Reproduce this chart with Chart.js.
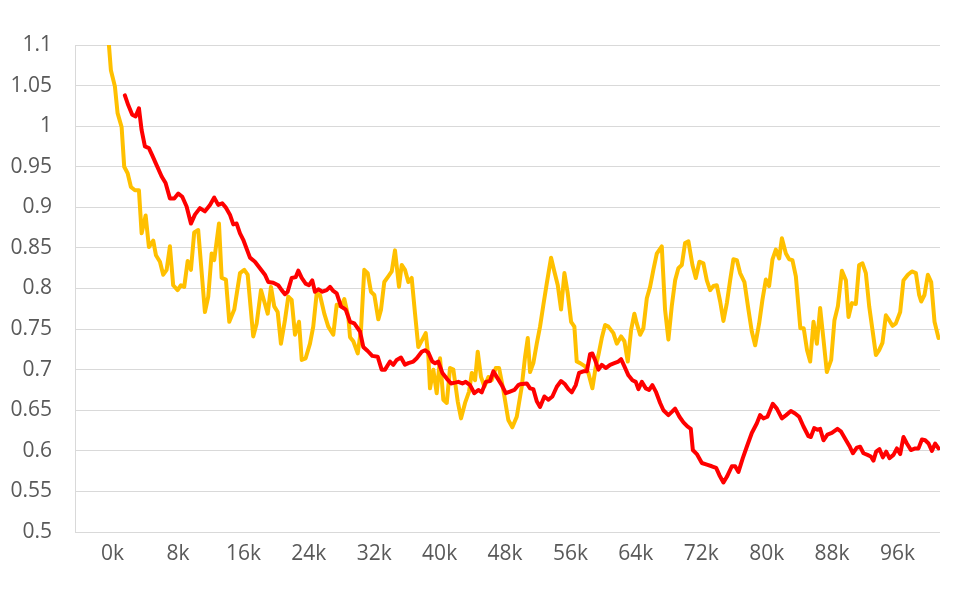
<!DOCTYPE html>
<html>
<head>
<meta charset="utf-8">
<script src="https://cdn.jsdelivr.net/npm/chart.js@4.4.1/dist/chart.umd.min.js"></script>
<style>
  html, body { margin: 0; padding: 0; background: #ffffff; }
  canvas { display: block; }
</style>
</head>
<body>
<canvas id="chart" width="956" height="591"></canvas>
<script>
// values (x in thousands)
var yellowX = [-0.45, -0.21, 0.28, 0.61, 1.10, 1.42, 1.84, 2.24, 2.73, 3.22, 3.55, 4.04, 4.44, 4.97, 5.30, 5.79, 6.19, 6.61, 7.01, 7.41,
  7.95, 8.36, 8.76, 9.18, 9.58, 9.98, 10.47, 11.29, 11.70, 12.11, 12.43, 13.01, 13.34, 13.86, 14.27, 14.88, 15.58, 16.10, 16.52, 17.20,
  17.62, 18.15, 18.55, 18.97, 19.37, 19.77, 20.19, 20.59, 21.08, 21.49, 21.90, 22.31, 22.80, 23.13, 23.61, 24.14, 24.54, 24.96, 25.36, 25.89,
  26.38, 26.99, 27.41, 27.93, 28.34, 28.83, 29.04, 29.44, 29.98, 30.38, 30.78, 31.20, 31.60, 32.01, 32.50, 32.83, 33.23, 33.72, 34.14, 34.54,
  35.03, 35.36, 35.76, 36.17, 36.58, 36.99, 37.39, 37.88, 38.30, 38.62, 38.82, 39.23, 39.64, 40.05, 40.45, 40.87, 41.27, 41.68, 42.21, 42.62,
  43.11, 43.60, 43.93, 44.33, 44.66, 45.06, 45.47, 45.96, 46.37, 46.86, 47.27, 47.79, 48.40, 48.89, 49.43, 50.04, 50.45, 50.78, 51.06, 51.46,
  51.88, 52.28, 52.69, 53.10, 53.63, 54.03, 54.45, 54.85, 55.26, 55.67, 56.08, 56.48, 56.77, 57.18, 57.79, 58.19, 58.68, 59.10, 59.42, 59.83,
  60.24, 60.64, 61.25, 61.67, 62.19, 62.60, 63.01, 63.42, 63.82, 64.11, 64.52, 64.92, 65.34, 65.74, 66.14, 66.56, 67.17, 67.57, 67.98, 68.39,
  68.80, 69.20, 69.62, 70.02, 70.43, 70.92, 71.33, 71.77, 72.26, 72.68, 73.08, 73.49, 73.90, 74.31, 74.71, 75.13, 75.53, 75.93, 76.35, 76.75,
  77.28, 77.77, 78.18, 78.59, 79.08, 79.48, 79.90, 80.30, 80.71, 81.12, 81.53, 81.86, 82.35, 82.75, 83.15, 83.57, 84.12, 84.53, 84.94, 85.32,
  85.73, 86.14, 86.54, 86.95, 87.36, 87.89, 88.29, 88.71, 89.20, 89.69, 90.01, 90.42, 90.91, 91.31, 91.72, 92.13, 92.54, 92.94, 93.36, 93.76,
  94.16, 94.58, 94.98, 95.39, 95.80, 96.33, 96.73, 97.27, 97.76, 98.25, 98.65, 98.90, 99.30, 99.72, 100.12, 100.53, 101.02];
var yellowY = [1.100, 1.069, 1.049, 1.016, 0.999, 0.950, 0.942, 0.925, 0.921, 0.921, 0.868, 0.890, 0.851, 0.859, 0.841, 0.833, 0.817, 0.823, 0.852, 0.804,
  0.798, 0.804, 0.802, 0.834, 0.823, 0.869, 0.872, 0.771, 0.790, 0.843, 0.835, 0.880, 0.813, 0.811, 0.759, 0.774, 0.819, 0.823, 0.817, 0.741,
  0.757, 0.798, 0.784, 0.769, 0.802, 0.778, 0.771, 0.732, 0.761, 0.790, 0.786, 0.743, 0.759, 0.712, 0.714, 0.732, 0.753, 0.794, 0.792, 0.769,
  0.753, 0.743, 0.780, 0.778, 0.787, 0.765, 0.740, 0.735, 0.720, 0.749, 0.823, 0.819, 0.796, 0.792, 0.762, 0.774, 0.808, 0.815, 0.821, 0.847,
  0.802, 0.829, 0.823, 0.808, 0.813, 0.769, 0.728, 0.737, 0.745, 0.716, 0.677, 0.700, 0.671, 0.714, 0.663, 0.659, 0.702, 0.700, 0.661, 0.640,
  0.659, 0.673, 0.696, 0.687, 0.722, 0.691, 0.679, 0.691, 0.687, 0.702, 0.702, 0.675, 0.638, 0.629, 0.642, 0.679, 0.716, 0.739, 0.697, 0.708,
  0.732, 0.753, 0.780, 0.806, 0.838, 0.821, 0.804, 0.774, 0.819, 0.794, 0.759, 0.753, 0.710, 0.708, 0.704, 0.696, 0.677, 0.704, 0.718, 0.739,
  0.755, 0.753, 0.745, 0.732, 0.741, 0.735, 0.710, 0.749, 0.769, 0.757, 0.743, 0.751, 0.788, 0.802, 0.823, 0.843, 0.852, 0.774, 0.737, 0.778,
  0.810, 0.825, 0.829, 0.856, 0.858, 0.829, 0.813, 0.833, 0.831, 0.810, 0.798, 0.803, 0.804, 0.784, 0.760, 0.782, 0.810, 0.836, 0.835, 0.819,
  0.808, 0.774, 0.747, 0.730, 0.757, 0.786, 0.811, 0.803, 0.836, 0.848, 0.837, 0.862, 0.843, 0.836, 0.835, 0.815, 0.751, 0.751, 0.724, 0.710,
  0.759, 0.732, 0.776, 0.737, 0.697, 0.712, 0.761, 0.778, 0.822, 0.810, 0.765, 0.782, 0.781, 0.829, 0.831, 0.819, 0.778, 0.749, 0.718, 0.724,
  0.733, 0.767, 0.761, 0.754, 0.757, 0.771, 0.810, 0.817, 0.821, 0.819, 0.792, 0.784, 0.792, 0.817, 0.808, 0.759, 0.739];

var redX = [1.50, 1.91, 2.40, 2.81, 3.22, 3.55, 3.95, 4.44, 4.85, 5.38, 6.00, 6.48, 7.01, 7.54, 8.03, 8.52, 9.05, 9.58, 10.07, 10.68,
  11.29, 11.91, 12.43, 12.92, 13.41, 13.83, 14.35, 14.76, 15.17, 15.58, 15.98, 16.80, 17.41, 18.02, 18.63, 19.04, 19.65, 20.26, 20.68, 21.08,
  21.41, 21.90, 22.39, 22.71, 23.13, 23.61, 24.02, 24.42, 24.75, 25.16, 25.65, 26.18, 26.59, 26.99, 27.41, 27.93, 28.51, 29.04, 29.56, 30.26,
  30.66, 31.20, 31.76, 32.42, 32.91, 33.32, 33.93, 34.33, 34.75, 35.27, 35.76, 36.17, 36.78, 37.20, 37.81, 38.21, 38.62, 39.10, 39.44, 39.84,
  40.33, 40.87, 41.39, 41.88, 42.29, 42.78, 43.19, 43.72, 44.24, 44.73, 45.15, 45.64, 46.16, 46.57, 47.11, 47.60, 48.09, 48.61, 49.14, 49.63,
  49.83, 50.66, 51.06, 51.46, 51.88, 52.28, 52.81, 53.30, 53.79, 54.33, 54.85, 55.34, 55.75, 56.16, 56.65, 57.05, 57.58, 58.00, 58.40, 58.68,
  59.01, 59.42, 59.83, 60.32, 60.85, 61.37, 61.86, 62.19, 62.60, 63.09, 63.58, 63.99, 64.31, 64.73, 65.22, 65.62, 66.02, 66.44, 66.97, 67.37,
  67.98, 68.40, 68.80, 69.33, 69.82, 70.30, 70.72, 70.97, 71.46, 72.07, 72.68, 73.29, 73.82, 74.22, 74.71, 75.13, 75.74, 76.14, 76.55, 77.08,
  77.57, 78.18, 78.80, 79.20, 79.60, 80.09, 80.75, 81.24, 81.86, 82.38, 82.96, 83.48, 83.97, 84.50, 85.11, 85.40, 85.81, 86.21, 86.54, 86.95,
  87.43, 87.97, 88.66, 89.07, 89.60, 90.12, 90.54, 91.03, 91.43, 91.84, 92.33, 92.74, 93.06, 93.39, 93.80, 94.21, 94.62, 95.02, 95.51, 95.93,
  96.33, 96.73, 97.15, 97.64, 98.17, 98.57, 98.99, 99.39, 99.80, 100.21, 100.61, 101.02];
var redY = [1.038, 1.026, 1.014, 1.012, 1.022, 0.995, 0.975, 0.973, 0.964, 0.952, 0.938, 0.930, 0.911, 0.911, 0.917, 0.913, 0.901, 0.880, 0.891, 0.899,
  0.895, 0.903, 0.912, 0.903, 0.905, 0.900, 0.891, 0.879, 0.880, 0.868, 0.860, 0.838, 0.833, 0.825, 0.817, 0.808, 0.807, 0.804, 0.798, 0.793,
  0.796, 0.813, 0.814, 0.822, 0.813, 0.806, 0.804, 0.810, 0.796, 0.799, 0.796, 0.798, 0.802, 0.797, 0.794, 0.778, 0.774, 0.759, 0.757, 0.747,
  0.728, 0.723, 0.717, 0.716, 0.700, 0.700, 0.710, 0.706, 0.712, 0.715, 0.706, 0.708, 0.710, 0.714, 0.722, 0.724, 0.721, 0.710, 0.708, 0.710,
  0.696, 0.689, 0.683, 0.684, 0.685, 0.683, 0.685, 0.681, 0.671, 0.675, 0.672, 0.685, 0.686, 0.698, 0.689, 0.681, 0.671, 0.673, 0.675, 0.681,
  0.682, 0.683, 0.677, 0.676, 0.661, 0.654, 0.667, 0.663, 0.667, 0.679, 0.686, 0.682, 0.676, 0.672, 0.681, 0.696, 0.698, 0.698, 0.719, 0.720,
  0.712, 0.700, 0.706, 0.702, 0.706, 0.708, 0.710, 0.713, 0.704, 0.693, 0.687, 0.685, 0.676, 0.685, 0.677, 0.675, 0.681, 0.673, 0.659, 0.650,
  0.644, 0.648, 0.652, 0.642, 0.635, 0.630, 0.627, 0.601, 0.596, 0.585, 0.583, 0.581, 0.579, 0.570, 0.561, 0.568, 0.581, 0.581, 0.574, 0.591,
  0.605, 0.622, 0.634, 0.644, 0.640, 0.642, 0.658, 0.652, 0.640, 0.644, 0.649, 0.646, 0.642, 0.630, 0.618, 0.617, 0.628, 0.626, 0.627, 0.613,
  0.620, 0.622, 0.627, 0.624, 0.615, 0.606, 0.597, 0.604, 0.605, 0.597, 0.595, 0.593, 0.588, 0.599, 0.602, 0.592, 0.599, 0.591, 0.595, 0.603,
  0.596, 0.617, 0.609, 0.601, 0.603, 0.603, 0.614, 0.613, 0.609, 0.600, 0.609, 0.603];

var xTicks = [0, 8, 16, 24, 32, 40, 48, 56, 64, 72, 80, 88, 96];
var yTicks = [0.5, 0.55, 0.6, 0.65, 0.7, 0.75, 0.8, 0.85, 0.9, 0.95, 1, 1.05, 1.1];

function toPoints(xs, ys) {
  return xs.map(function (x, i) { return { x: x, y: ys[i] }; });
}

Chart.defaults.font.family = "'Open Sans', sans-serif";
Chart.defaults.font.size = 21;
Chart.defaults.color = '#595959';

var ctx = document.getElementById('chart').getContext('2d');
var chart = new Chart(ctx, {
  type: 'line',
  data: {
    datasets: [{
      data: toPoints(redX, redY),
      borderColor: '#FF0000',
      borderWidth: 4,
      pointRadius: 0,
      tension: 0,
      borderJoinStyle: 'round',
      borderCapStyle: 'round'
    }, {
      data: toPoints(yellowX, yellowY),
      borderColor: '#FFC000',
      borderWidth: 4,
      pointRadius: 0,
      tension: 0,
      borderJoinStyle: 'round',
      borderCapStyle: 'round'
    }]
  },
  options: {
    responsive: false,
    animation: false,
    layout: { padding: { top: 45, right: 16, left: 0, bottom: 0 } },
    plugins: { legend: { display: false }, tooltip: { enabled: false } },
    scales: {
      x: {
        type: 'linear',
        min: -4.6,
        max: 101.2,
        grid: { display: false, drawTicks: false },
        border: { display: false },
        afterBuildTicks: function (scale) {
          scale.ticks = xTicks.map(function (v) { return { value: v }; });
        },
        afterFit: function (scale) { scale.height = 59; },
        ticks: {
          padding: 9,
          maxRotation: 0,
          autoSkip: false,
          callback: function (v) { return v + 'k'; }
        }
      },
      y: {
        min: 0.5,
        max: 1.1,
        grid: { color: '#D9D9D9', lineWidth: 1, drawTicks: false },
        border: { display: true, color: '#D9D9D9', width: 1 },
        afterBuildTicks: function (scale) {
          scale.ticks = yTicks.map(function (v) { return { value: v }; });
        },
        afterFit: function (scale) { scale.width = 75; },
        ticks: {
          padding: 23,
          autoSkip: false,
          callback: function (v) { return String(v); }
        }
      }
    }
  }
});
</script>
</body>
</html>
